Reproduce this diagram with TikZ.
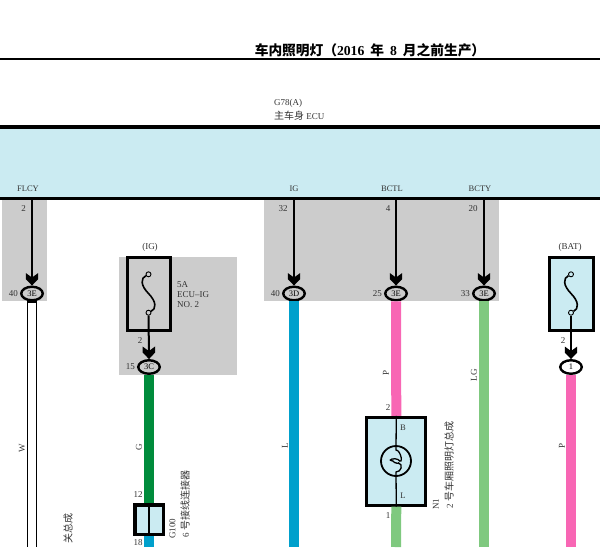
\documentclass[tikz,border=0pt]{standalone}
\usepackage{fontspec}
\setmainfont{Liberation Serif}
\newfontfamily\cjk{Noto Sans CJK SC}
\usetikzlibrary{positioning,shapes,arrows.meta,calc}
\definecolor{bandblue}{HTML}{CBEBF2}
\definecolor{zonegray}{HTML}{CCCCCC}
\definecolor{wireG}{HTML}{008C3C}
\definecolor{wireL}{HTML}{00A0CC}
\definecolor{wireP}{HTML}{F866B4}
\definecolor{wireLG}{HTML}{7FC97F}
\pgfdeclarearrow{
	name = Fork,
	setup code = {\pgfarrowssettipend{0pt}\pgfarrowssetbackend{-12.5pt}\pgfarrowssetlineend{-7pt}\pgfarrowssetvisualbackend{-8pt}},
	drawing code = {
		\pgfpathmoveto{\pgfpoint{0pt}{0pt}}
		\pgfpathlineto{\pgfpoint{-6.5pt}{6.2pt}}
		\pgfpathlineto{\pgfpoint{-12.5pt}{6.2pt}}
		\pgfpathlineto{\pgfpoint{-8pt}{0pt}}
		\pgfpathlineto{\pgfpoint{-12.5pt}{-6.2pt}}
		\pgfpathlineto{\pgfpoint{-6.5pt}{-6.2pt}}
		\pgfpathclose
		\pgfusepathqfill
	}
}
\tikzset{%
	zone/.style     = {fill=zonegray, draw=none, inner sep=0, anchor=north west},
	conn/.style     = {draw, ellipse, line width=2.4, minimum width=21.5, minimum height=13.5, inner sep=0, font=\fontsize{8.5}{9}\selectfont},
	lbl/.style      = {inner sep=0, text=black!80, font=\fontsize{9}{10}\selectfont},
	sname/.style    = {lbl, font=\fontsize{8.5}{10}\selectfont},
	vlbl/.style     = {lbl, rotate=90},
	sig/.style      = {line width=2, -Fork},
	wire/.style     = {line width=10},
	fusebox/.style  = {draw, line width=3, inner sep=0, anchor=north west},
	pin/.style      = {draw, circle, fill=none, line width=0.9, minimum size=5, inner sep=0}
}
\newcommand{\fusecurve}[2]{\draw[line width=1.6] (#1) .. controls ($(#1)+(-8,4)$) and ($(#1)+(-8,11)$) .. ($(#1)!0.5!(#2)$) .. controls ($(#2)+(8,-11)$) and ($(#2)+(8,-4)$) .. (#2);}
\begin{document}
\begin{tikzpicture}[x=1pt, y=-1pt, >=stealth]
	\useasboundingbox (0,0) rectangle (600,547);

	% gray zones
	\node[zone, minimum width=45, minimum height=101] (zoneA) at (2,200) {};
	\node[zone, minimum width=118, minimum height=118] (zoneB) at (119,257) {};
	\node[zone, minimum width=235, minimum height=101] (zoneC) at (264,200) {};

	% title and band
	\node[inner sep=0, font=\fontsize{13.7}{16}\selectfont\bfseries] (title) at (370,50) {{\cjk 车内照明灯（}2016\hspace{6pt}{\cjk 年}\hspace{6pt}8\hspace{6pt}{\cjk 月之前生产）}};
	\coordinate (ruleL) at (0,59);
	\coordinate (ruleR) at (600,59);
	\draw[line width=2] (ruleL) -- (ruleR);
	\node[fill=bandblue, minimum width=600, minimum height=71, inner sep=0, anchor=north west] (band) at (0,127) {};
	\draw[line width=3.5] (band.north west) -- (band.north east);
	\draw[line width=3.5] (band.south west) -- (band.south east);
	\node[lbl, anchor=west] (ecuA) at (274,103) {G78(A)};
	\node[lbl, anchor=west] (ecuB) at (274,116) {{\cjk\fontsize{10}{10}\selectfont 主车身} ECU};

	% bus terminals
	\node[sname] (flcy) at (28,189) {FLCY};
	\node[sname] (ig) at (294,189) {IG};
	\node[sname] (bctl) at (392,189) {BCTL};
	\node[sname] (bcty) at (480,189) {BCTY};
	\coordinate (busA) at (32,198);
	\coordinate (busB) at (294,198);
	\coordinate (busC) at (396,198);
	\coordinate (busD) at (484,198);
	\node[lbl] at (23.5,209) (pinA) {2};
	\node[lbl] at (283,209) (pinB) {32};
	\node[lbl] at (388,209) (pinC) {4};
	\node[lbl] at (473,209) (pinD) {20};

	% wire ends at the bottom
	\coordinate (endW) at (32,547);
	\coordinate (endL) at (294,547);
	\coordinate (endGn) at (396,547);
	\coordinate (endLG) at (484,547);
	\coordinate (endP) at (571,547);
	\coordinate (endB) at (149,547);

	% connectors
	\node[conn] (c3e) at (32,293.5) {3E};
	\node[conn] (c3c) at (149,367) {3C};
	\node[conn] (c3d) at (294,293.5) {3D};
	\node[conn] (c3f) at (396,293.5) {3E};
	\node[conn] (c3g) at (484,293.5) {3E};
	\node[conn] (c1) at (571,367) {1};
	\node[lbl, left=2pt of c3e] (n40a) {40};
	\node[lbl, left=2pt of c3c] (n15) {15};
	\node[lbl, left=2pt of c3d] (n40b) {40};
	\node[lbl, left=2pt of c3f] (n25) {25};
	\node[lbl, left=2pt of c3g] (n33) {33};

	% fuses
	\node[fusebox, minimum width=43, minimum height=73] (fuseA) at (125.5,255.5) {};
	\node[fusebox, fill=bandblue, minimum width=43.7, minimum height=73] (fuseB) at (548,255.5) {};
	\node[pin] (fuseAt) at (148.5,274.3) {};
	\node[pin] (fuseAb) at (148.5,312.7) {};
	\node[pin] (fuseBt) at (571,274.3) {};
	\node[pin] (fuseBb) at (571,312.7) {};
	\fusecurve{fuseAt}{fuseAb}
	\fusecurve{fuseBt}{fuseBb}
	\node[lbl] (igup) at (150,247) {(IG)};
	\node[lbl] (batup) at (570,247) {(BAT)};
	\node[lbl, anchor=west] (fa) at (177,285) {5A};
	\node[lbl, anchor=west] (fb) at (177,295) {ECU--IG};
	\node[lbl, anchor=west] (fc) at (177,305) {NO. 2};
	\node[lbl] (n2a) at (140,341) {2};
	\node[lbl] (n2b) at (563,341) {2};

	% signal lines
	\draw[sig] (busA) -- (c3e.north);
	\draw[sig] (busB) -- (c3d.north);
	\draw[sig] (busC) -- (c3f.north);
	\draw[sig] (busD) -- (c3g.north);
	\draw[sig] (fuseAb) -- (c3c.north);
	\draw[sig] (fuseBb) -- (c1.north);

	% junction connector
	\node[draw, fill=bandblue, line width=3.5, minimum width=28.5, minimum height=29.5, inner sep=0] (g100) at (149,519.5) {};
	\draw[line width=1.6] (g100.north) -- (g100.south);

	% lamp
	\node[draw, fill=bandblue, line width=3, minimum width=59, minimum height=87.7, inner sep=0] (lamp) at (396.3,461.3) {};

	% wires
	\draw[wire, black] (c3e.south) -- (endW);
	\draw[line width=7.8, white] ($(c3e.south)+(0,1.5)$) -- (endW);
	\draw[wire, wireL] (c3d.south) -- (endL);
	\draw[wire, wireP] (c3f.south) -- (lamp.north);
	\draw[wire, wireLG] (lamp.south) -- (endGn);
	\draw[wire, wireLG] (c3g.south) -- (endLG);
	\draw[wire, wireP] (c1.south) -- (endP);
	\draw[wire, wireG] (c3c.south) -- (g100.north);
	\draw[wire, wireL] (g100.south) -- (endB);

	% lamp inside
	\node[draw, circle, line width=1.8, minimum size=30, inner sep=0] (bulb) at (396,461) {};
	\coordinate (filT) at ($(bulb.center)+(0,-11)$);
	\coordinate (filB) at ($(bulb.center)+(0,11)$);
	\draw[line width=1.3] (lamp.north) -- (filT) .. controls +(5,0) and +(6,7) .. ($(bulb.center)+(2,-1.5)$) .. controls +(-3,-2) and +(-7,-1) .. ($(bulb.center)+(-3,0)$) .. controls +(0,2) and +(4,2) .. ($(bulb.center)+(2,1.5)$) .. controls +(6,2) and +(5,0) .. (filB) -- (lamp.south);
	\node[sname] (lampB) at (403,428) {B};
	\node[sname] (lampL) at (403,496) {L};
	\node[lbl] (n2c) at (388,408) {2};
	\node[lbl] (n1c) at (388,516) {1};

	% wire and part labels
	\node[vlbl] (tw) at (22,448) {W};
	\node[vlbl] (tg) at (139,447) {G};
	\node[vlbl] (tl) at (285,446) {L};
	\node[vlbl] (tp) at (386,373) {P};
	\node[vlbl] (tlg) at (474,375) {LG};
	\node[vlbl] (tp2) at (562,446) {P};
	\node[lbl] (n12) at (138,495) {12};
	\node[lbl] (n18) at (138,542.5) {18};
	\node[vlbl, anchor=west] (t100) at (172.5,539) {G100};
	\node[vlbl, anchor=west] (t6) at (185,538) {6\hspace{3pt}{\cjk\fontsize{10}{10}\selectfont 号接线连接器}};
	\node[vlbl, anchor=west] (tn1) at (436,510) {N1};
	\node[vlbl, anchor=west] (tn2) at (449,509) {2\hspace{3pt}{\cjk\fontsize{10}{10}\selectfont 号车厢照明灯总成}};
	\node[vlbl, anchor=east] (tsw) at (68,513) {\cjk\fontsize{10}{10}\selectfont 关总成};
\end{tikzpicture}
\end{document}
